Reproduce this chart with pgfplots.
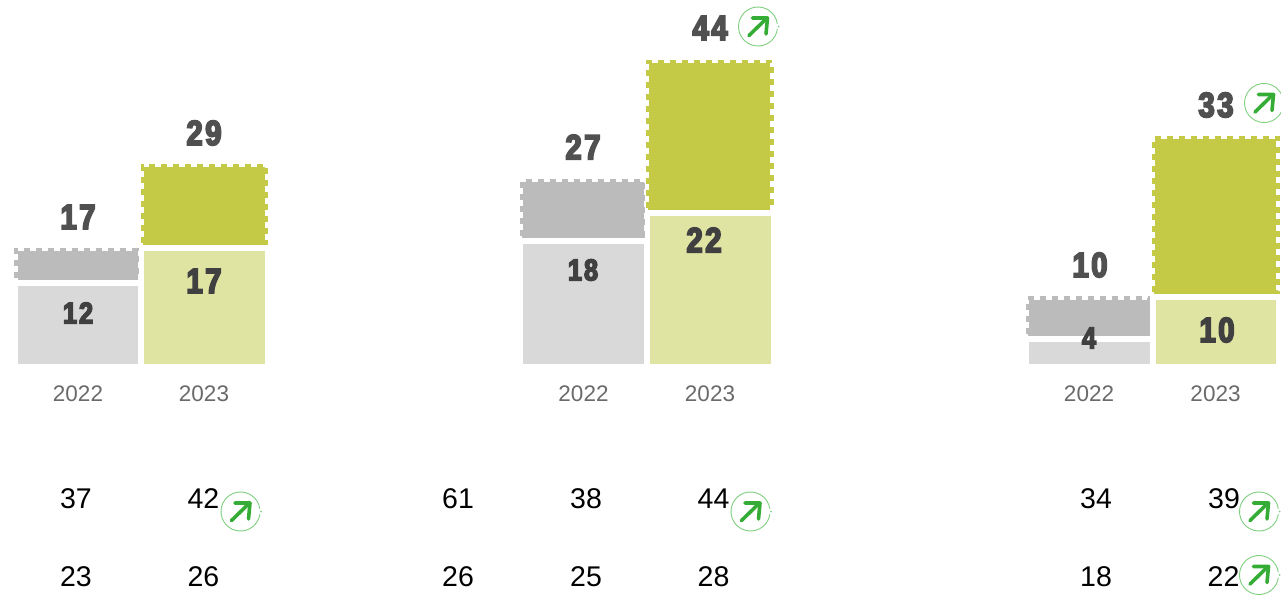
\documentclass[border=0pt]{standalone}
\usepackage{fontspec}
\usepackage{pgfplots}
\pgfplotsset{compat=1.18}
\setmainfont{Liberation Sans}
\newfontfamily\heavy[FakeBold=5,FakeStretch=0.84,LetterSpace=7]{Liberation Sans Bold}
\definecolor{grayup}{HTML}{BBBBBB}
\definecolor{graylo}{HTML}{D9D9D9}
\definecolor{greenup}{HTML}{C4CA45}
\definecolor{greenlo}{HTML}{E0E4A3}
\definecolor{iconline}{HTML}{7FCF7F}
\definecolor{iconarrow}{HTML}{35AC35}
\definecolor{toplab}{HTML}{505050}
\definecolor{inlab}{HTML}{404040}
\definecolor{yearlab}{HTML}{6A6A6A}
\newsavebox\iconbox
\sbox\iconbox{\begin{tikzpicture}[x=1pt,y=1pt]
\useasboundingbox (-20,-20) rectangle (20,20);
\draw[iconline,line width=0.9pt] (8:19.5) arc (8:352:19.5);
\fill[iconline] (20.5,0) circle (1);
\draw[iconarrow,line width=3.6pt,line cap=round,line join=round] (-9,-9) -- (8.5,8);
\draw[iconarrow,line width=3.6pt,line cap=round,line join=round] (-5.5,8.5) -- (9.5,8.5) -- (8,-7.5);
\end{tikzpicture}}
\newcommand\rect[5]{\addplot[#1] coordinates {(#2,#4)(#2,#5)(#3,#5)(#3,#4)} --cycle;}
\newcommand\up[9]{% colour, body x0 x1 lo hi, stroke x0 x1 lo hi
  \rect{draw=none,fill=#1}{#2}{#3}{#4}{#5}
  \rect{draw=#1,line width=3.8pt,dash pattern=on 6pt off 6pt,fill=none}{#6}{#7}{#8}{#9}}
\newcommand\lab[4]{\node[inner sep=0pt,#4] at (axis cs:#1,{(364-#2)/6.88}) {#3};}
\tikzset{
 big/.style={font=\heavy\fontsize{35}{35}\selectfont},
 small/.style={font=\heavy\fontsize{30}{30}\selectfont},
 yr/.style={font=\fontsize{22.5}{22.5}\selectfont,text=yearlab},
 num/.style={font=\fontsize{28.5}{28.5}\selectfont,text=black}}
\begin{document}
\begin{tikzpicture}[x=1pt,y=1pt]
\useasboundingbox (0,0) rectangle (1281,595);
\clip (0,0) rectangle (1281,595);
\begin{axis}[at={(0,0)},anchor=south west,scale only axis,width=1281pt,height=595pt,
 xmin=0,xmax=1281,ymin=-33.576,ymax=52.907,hide axis,clip=false]
% chart 1
\rect{draw=none,fill=graylo}{17.5}{138}{0}{11.34}
\rect{draw=none,fill=greenlo}{144}{264.5}{0}{16.42}
\up{grayup}{17.5}{138}{12.21}{16.42}{16}{137}{12.5}{16.64}
\up{greenup}{143.5}{264.5}{17.30}{28.63}{142.5}{266.5}{17.6}{28.85}
% chart 2
\rect{draw=none,fill=graylo}{523}{644}{0}{17.44}
\rect{draw=none,fill=greenlo}{650}{770.5}{0}{21.51}
\up{grayup}{523}{644}{18.31}{26.45}{521.5}{643}{18.6}{26.67}
\up{greenup}{649}{770}{22.38}{43.75}{648}{772}{22.68}{43.97}
% chart 3
\rect{draw=none,fill=graylo}{1029}{1149.5}{0}{3.20}
\rect{draw=none,fill=greenlo}{1155.5}{1276}{0}{9.30}
\up{grayup}{1029}{1149.5}{4.07}{9.375}{1027.5}{1148.5}{4.37}{9.59}
\up{greenup}{1154.5}{1276}{10.17}{32.70}{1153.5}{1278}{10.47}{32.92}
% value labels
\lab{204}{133}{29}{big,text=toplab}
\lab{78}{217}{17}{big,text=toplab}
\lab{204}{281}{17}{big,text=inlab}
\lab{78}{313}{12}{small,text=inlab}
\lab{583}{147}{27}{big,text=toplab}
\lab{583}{270}{18}{small,text=inlab}
\lab{704}{240}{22}{big,text=inlab}
\lab{710}{28}{44}{big,text=toplab}
\lab{1090}{265}{10}{big,text=toplab}
\lab{1089}{338}{4}{small,text=inlab}
\lab{1217}{330}{10}{big,text=inlab}
\lab{1216}{105}{33}{big,text=toplab}
% years
\lab{78}{393.5}{2022}{yr}
\lab{204}{393.5}{2023}{yr}
\lab{583.5}{393.5}{2022}{yr}
\lab{710}{393.5}{2023}{yr}
\lab{1089}{393.5}{2022}{yr}
\lab{1215.5}{393.5}{2023}{yr}
% bottom rows
\lab{76}{498.5}{37}{num}
\lab{203.5}{498.5}{42}{num}
\lab{76}{576.5}{23}{num}
\lab{203.5}{576.5}{26}{num}
\lab{458}{498.5}{61}{num}
\lab{586}{498.5}{38}{num}
\lab{713.5}{498.5}{44}{num}
\lab{458}{576.5}{26}{num}
\lab{586}{576.5}{25}{num}
\lab{713.5}{576.5}{28}{num}
\lab{1096}{498.5}{34}{num}
\lab{1224}{498.5}{39}{num}
\lab{1096}{576.5}{18}{num}
\lab{1223.5}{576.5}{22}{num}
% icons
\lab{758}{26.5}{\usebox\iconbox}{}
\lab{1264}{103}{\usebox\iconbox}{}
\lab{240.5}{511.5}{\usebox\iconbox}{}
\lab{750.5}{511.5}{\usebox\iconbox}{}
\lab{1259}{511.5}{\usebox\iconbox}{}
\lab{1259}{575}{\usebox\iconbox}{}
\end{axis}
\end{tikzpicture}
\end{document}
